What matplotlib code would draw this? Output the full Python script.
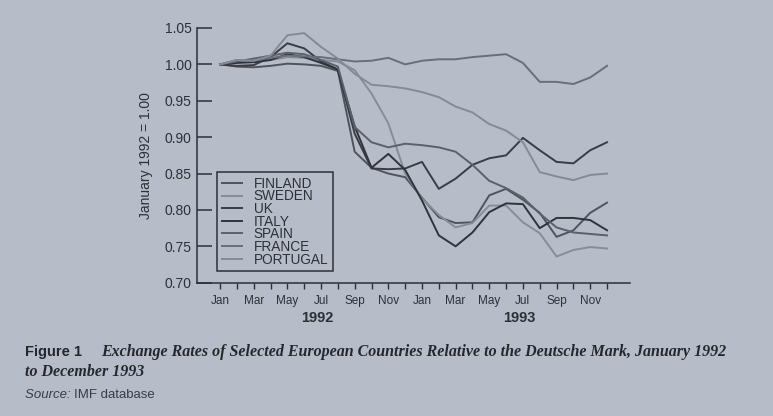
import numpy as np
import matplotlib.pyplot as plt
import matplotlib.transforms as mtransforms

# ===============================
# Data (index relative to Jan 1992 = 1.00)
# ===============================
months = np.arange(24)  # Jan 1992 .. Dec 1993
month_labels = ["Jan", "Mar", "May", "Jul", "Sep", "Nov"] * 2

finland = [1.000, 0.997, 0.996, 0.998, 1.001, 1.000, 0.998, 0.991, 0.880, 0.858, 0.850, 0.845,
           0.817, 0.790, 0.782, 0.783, 0.820, 0.829, 0.814, 0.796, 0.763, 0.772, 0.796, 0.810]
sweden = [1.000, 1.003, 1.004, 1.006, 1.010, 1.009, 1.006, 1.004, 0.992, 0.960, 0.919, 0.850,
          0.816, 0.793, 0.776, 0.782, 0.806, 0.806, 0.783, 0.768, 0.736, 0.745, 0.749, 0.747]
uk = [1.000, 0.998, 0.999, 1.010, 1.029, 1.022, 1.004, 0.993, 0.905, 0.857, 0.856, 0.857,
      0.866, 0.829, 0.843, 0.862, 0.871, 0.875, 0.899, 0.882, 0.866, 0.864, 0.882, 0.893]
italy = [1.000, 1.002, 1.003, 1.006, 1.014, 1.010, 1.002, 0.993, 0.915, 0.858, 0.877, 0.855,
         0.813, 0.765, 0.750, 0.769, 0.797, 0.809, 0.808, 0.775, 0.789, 0.789, 0.786, 0.772]
spain = [1.000, 1.004, 1.008, 1.012, 1.016, 1.014, 1.006, 0.997, 0.914, 0.893, 0.886, 0.891,
         0.889, 0.886, 0.880, 0.862, 0.840, 0.830, 0.817, 0.795, 0.776, 0.769, 0.767, 0.765]
france = [1.000, 1.006, 1.005, 1.009, 1.012, 1.011, 1.010, 1.007, 1.004, 1.005, 1.009, 1.000,
          1.005, 1.007, 1.007, 1.010, 1.012, 1.014, 1.002, 0.976, 0.976, 0.973, 0.982, 0.998]
portugal = [1.000, 1.006, 1.005, 1.012, 1.040, 1.043, 1.024, 1.008, 0.987, 0.972, 0.970, 0.967,
            0.962, 0.955, 0.942, 0.934, 0.918, 0.909, 0.893, 0.852, 0.846, 0.841, 0.848, 0.850]

series = [
    ("FINLAND", finland, "#50535c"),
    ("SWEDEN", sweden, "#878c96"),
    ("UK", uk, "#393c44"),
    ("ITALY", italy, "#30333a"),
    ("SPAIN", spain, "#5c606a"),
    ("FRANCE", france, "#6a6e78"),
    ("PORTUGAL", portugal, "#858a94"),
]

# ===============================
# Figure
# ===============================
BG = "#b6bdc9"
INK = "#2e3036"

fig = plt.figure(figsize=(7.73, 4.16), dpi=100, facecolor=BG)
ax = fig.add_axes([0.2549, 0.3204, 0.560, 0.6123], facecolor=BG)

for nome, valores, cor in series:
    ax.plot(months, valores, color=cor, lw=1.4, label=nome)

ax.set_xlim(-1.37, 24.36)
ax.set_ylim(0.70, 1.05)

for lado in ["top", "right"]:
    ax.spines[lado].set_visible(False)
for lado in ["left", "bottom"]:
    ax.spines[lado].set_color(INK)
    ax.spines[lado].set_linewidth(1.1)

ax.set_yticks([0.70, 0.75, 0.80, 0.85, 0.90, 0.95, 1.00, 1.05])
ax.set_yticklabels([f"{v:.2f}" for v in ax.get_yticks()])
ax.tick_params(axis="y", direction="in", length=11, width=1.1, color=INK,
               labelsize=10, labelcolor=INK, pad=4)

ax.set_xticks(months)
ax.set_xticklabels([month_labels[i // 2] if i % 2 == 0 else "" for i in months])
ax.tick_params(axis="x", direction="out", length=4, width=1.0, color=INK,
               labelsize=8.5, labelcolor=INK, pad=5)

for lbl in ax.get_xticklabels() + ax.get_yticklabels():
    lbl.set_family("Liberation Sans")

ax.set_ylabel("January 1992 = 1.00", fontsize=10, color=INK,
              family="Liberation Sans", labelpad=8)

trans = mtransforms.blended_transform_factory(ax.transData, ax.transAxes)
ax.text(5.8, -0.139, "1992", transform=trans, ha="center", va="center",
        fontsize=10.5, fontweight="bold", color=INK, family="Liberation Sans")
ax.text(17.8, -0.139, "1993", transform=trans, ha="center", va="center",
        fontsize=10.5, fontweight="bold", color=INK, family="Liberation Sans")

leg = ax.legend(loc="upper left", bbox_to_anchor=(0.046, 0.435), frameon=True,
                fancybox=False, facecolor=BG, edgecolor=INK, framealpha=1,
                prop={"family": "Liberation Sans", "size": 9.8},
                handlelength=1.5, handletextpad=0.85, labelspacing=-0.1,
                borderpad=0.35, borderaxespad=0)
leg.get_frame().set_linewidth(1.1)
for t in leg.get_texts():
    t.set_color(INK)

# ===============================
# Legenda da figura
# ===============================
fig.text(0.032, 1 - 352 / 416, "Figure 1", fontsize=10.5, fontweight="bold",
         color="#25272c", family="Liberation Sans", va="center")
fig.text(0.131, 1 - 352 / 416,
         "Exchange Rates of Selected European Countries Relative to the Deutsche Mark, January 1992",
         fontsize=11.5, fontweight="bold", fontstyle="italic", color="#25272c",
         family="Liberation Serif", va="center")
fig.text(0.032, 1 - 372 / 416, "to December 1993", fontsize=11.5, fontweight="bold",
         fontstyle="italic", color="#25272c", family="Liberation Serif", va="center")

fonte = fig.text(0.032, 1 - 395 / 416, "Source: ", fontsize=9.5, fontstyle="italic",
                 color="#3a3c42", family="Liberation Sans", va="center")
fig.canvas.draw()
bb = fonte.get_window_extent().transformed(fig.transFigure.inverted())
fig.text(bb.x1, 1 - 395 / 416, "IMF database", fontsize=9.5,
         color="#3a3c42", family="Liberation Sans", va="center")

fig.savefig("out.png", dpi=100, facecolor=BG)
